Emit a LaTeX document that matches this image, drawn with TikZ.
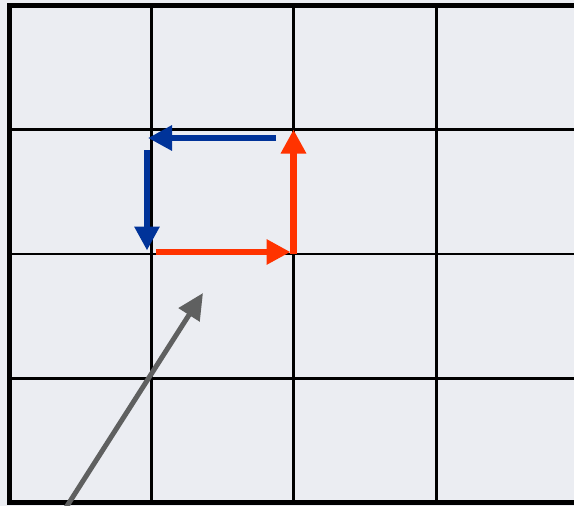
\documentclass[tikz,border=0pt]{standalone}
\usetikzlibrary{arrows.meta}
\definecolor{bgc}{RGB}{235,237,242}
\definecolor{blueA}{RGB}{0,51,153}
\definecolor{redA}{RGB}{255,51,0}
\definecolor{grayA}{RGB}{95,96,96}
\tikzset{
  gridline/.style={black,line width=2.7pt},
  border/.style={black,line width=5pt},
  vec/.style={line width=6.5pt,-{Triangle[length=24pt,width=24pt]}},
  pointer/.style={grayA,line width=5pt,-{Triangle[length=26pt,width=24pt]}}
}
\begin{document}
\begin{tikzpicture}[x=1pt,y=-1pt]
\useasboundingbox (0,0) rectangle (574,506);
\clip (0,0) rectangle (574,506);
\fill[bgc] (0,0) rectangle (574,506);
% grid
\foreach \x in {151.3,293.7,436.5} \draw[gridline] (\x,5.5) -- (\x,502.8);
\foreach \y in {129.8,254,378.2} \draw[gridline] (9,\y) -- (574,\y);
\draw[border] (9,5.5) rectangle (590,502.8);
% coordinates
\coordinate (b1s) at (276,138);
\coordinate (b1e) at (148,138);
\coordinate (b2s) at (147,150);
\coordinate (b2e) at (147,250.5);
\coordinate (r1s) at (156,252);
\coordinate (r1e) at (290.5,252);
\coordinate (r2s) at (293.5,254);
\coordinate (r2e) at (293.5,129.5);
\coordinate (gs) at (60,517);
\coordinate (ge) at (203,293);
% arrows
\draw[vec,blueA] (b1s) -- (b1e);
\draw[vec,blueA] (b2s) -- (b2e);
\draw[vec,redA] (r1s) -- (r1e);
\draw[vec,redA] (r2s) -- (r2e);
\draw[pointer] (gs) -- (ge);
\end{tikzpicture}
\end{document}
